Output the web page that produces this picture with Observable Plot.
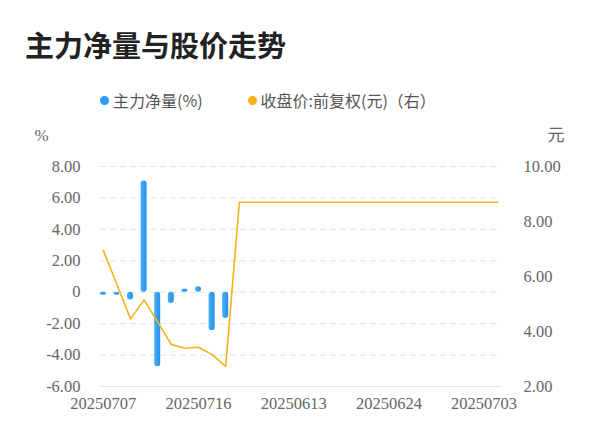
<!DOCTYPE html>
<html>
<head>
<meta charset="utf-8">
<script src="https://cdn.jsdelivr.net/npm/d3@7"></script>
<script src="https://cdn.jsdelivr.net/npm/@observablehq/plot@0.6"></script>
<style>
  html, body { margin: 0; padding: 0; background: #fff; }
  #wrap { position: relative; width: 600px; height: 446px; overflow: hidden; font-family: "Noto Sans CJK SC", "Noto Sans", sans-serif; }
  #title { position: absolute; left: 25px; top: 24px; font-size: 29px; font-weight: bold; color: #222; line-height: 40px; white-space: nowrap; }
  #legend { position: absolute; left: 100px; top: 88px; font-size: 16px; color: #555; line-height: 24px; white-space: nowrap; display: flex; align-items: center; }
  .item { display: flex; align-items: center; }
  .dot { width: 9px; height: 9px; border-radius: 50%; display: inline-block; margin-right: 4px; }
  #chart { position: absolute; left: 0; top: 120px; }
</style>
</head>
<body>
<div id="wrap">
  <div id="title">主力净量与股价走势</div>
  <div id="legend">
    <span class="item"><span class="dot" style="background:#2c9cf2"></span>主力净量(%)</span>
    <span class="item" style="margin-left:45px"><span class="dot" style="background:#f7b21b"></span>收盘价:前复权(元)（右）</span>
  </div>
  <div id="chart"></div>
</div>
<script>
const dates = [
  "20250707","20250708","20250709","20250710","20250711","20250714","20250715","20250716","20250717","20250718",
  "20250609","20250610","20250611","20250612","20250613","20250616","20250617","20250618","20250619","20250620",
  "20250623","20250624","20250625","20250626","20250627","20250630","20250701","20250702","20250703","20250704"
];
const netFlow = [-0.2, -0.2, -0.5, 7.08, -4.75, -0.72, 0.2, 0.34, -2.46, -1.68];
const price = [
  6.95, 5.71, 4.46, 5.15, 4.34, 3.53, 3.39, 3.43, 3.16, 2.73,
  8.70, 8.70, 8.70, 8.70, 8.70, 8.70, 8.70, 8.70, 8.70, 8.70,
  8.70, 8.70, 8.70, 8.70, 8.70, 8.70, 8.70, 8.70, 8.70, 8.70
];
const leftTicks = [-6, -4, -2, 0, 2, 4, 6, 8];
const rightTicks = [2, 4, 6, 8, 10];
const xTickLabels = ["20250707", "20250716", "20250613", "20250624", "20250703"];

// map right-axis (price) values onto the left y scale
const toLeft = d3.scaleLinear().domain([2, 10]).range([-6, 8]);

const barData = netFlow.map((v, i) => ({date: dates[i], v}));
const lineData = price.map((p, i) => ({date: dates[i], v: toLeft(p)}));

const numFont = "'Liberation Serif', 'DejaVu Serif', serif";

const chart = Plot.plot({
  width: 600,
  height: 326,
  marginTop: 46,
  marginBottom: 60,
  marginLeft: 96,
  marginRight: 96,
  style: {fontFamily: numFont, fontSize: "16.5px", color: "#666", background: "transparent"},
  x: {type: "band", domain: dates, padding: 0, round: false, axis: null},
  y: {domain: [-6, 8], axis: null},
  marks: [
    Plot.ruleY(leftTicks.filter(d => d !== -6), {stroke: "#e3e3e3", strokeDasharray: "6,4", strokeWidth: 1, insetLeft: 4, insetRight: 3}),
    Plot.ruleY([-6], {stroke: "#e3e3e3", strokeWidth: 1.2, insetLeft: 4, insetRight: 3}),
    Plot.axisY(leftTicks, {anchor: "left", tickSize: 0, tickPadding: 16, label: null, fontSize: 16.5, fill: "#666", fontFamily: numFont,
      tickFormat: d => d === 0 ? "0" : d.toFixed(2)}),
    Plot.axisY(rightTicks.map(toLeft), {anchor: "right", tickSize: 0, tickPadding: 19, label: null, fontSize: 16.5, fill: "#666", fontFamily: numFont,
      tickFormat: d => toLeft.invert(d).toFixed(2)}),
    Plot.axisX(xTickLabels, {anchor: "bottom", tickSize: 0, tickPadding: 11, label: null, fontSize: 16.5, fill: "#666", fontFamily: numFont}),
    Plot.barY(barData, {x: "date", y: "v", fill: "url(#barGrad)", insetLeft: 3.8, insetRight: 3.8, rx: 3}),
    Plot.line(lineData, {x: "date", y: "v", stroke: "#f7b21b", strokeWidth: 1.6}),
    Plot.text(["%"], {frameAnchor: "top-left", dx: -62, dy: -38, fontSize: 17, fill: "#666", fontFamily: numFont}),
    Plot.text(["元"], {frameAnchor: "top-right", dx: 60, dy: -38, fontSize: 17, fill: "#666", fontFamily: "'Noto Sans CJK SC', sans-serif"})
  ]
});
// horizontal gradient for the bars
const defs = d3.select(chart).insert("defs", ":first-child");
const grad = defs.append("linearGradient").attr("id", "barGrad").attr("x1", "0").attr("x2", "1").attr("y1", "0").attr("y2", "0");
grad.append("stop").attr("offset", "0%").attr("stop-color", "#45b1f7");
grad.append("stop").attr("offset", "100%").attr("stop-color", "#2690ea");
document.getElementById("chart").appendChild(chart);
</script>
</body>
</html>
